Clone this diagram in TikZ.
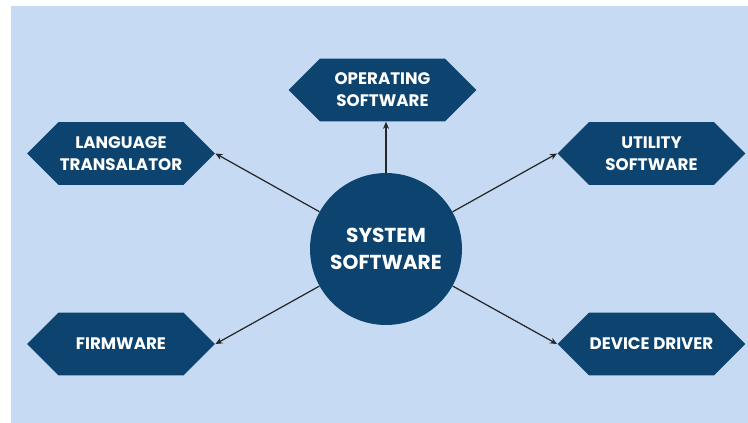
\documentclass[tikz,border=0pt]{standalone}
\usepackage{fontspec}
\setmainfont{Poppins}
\usetikzlibrary{shapes.symbols,arrows.meta}
\definecolor{fundo}{RGB}{198,219,243}
\definecolor{azulesc}{RGB}{12,67,111}
\begin{document}
\begin{tikzpicture}[x=0.02cm,y=-0.02cm,
    hexa/.style={signal, signal to=east and west, signal pointer angle=90,
        fill=azulesc, text=white, font=\bfseries\fontsize{9.5}{12.5}\selectfont,
        align=center, minimum width=3.76cm, minimum height=1.26cm, inner sep=0pt},
    centro/.style={circle, fill=azulesc, text=white, minimum size=3.04cm,
        font=\bfseries\fontsize{11.5}{15}\selectfont, align=center},
    seta/.style={-{Stealth[length=4pt,width=3.5pt]}, line width=0.7pt, draw=black!85}]
            % Fundo
            \useasboundingbox (0,0) rectangle (748,423);
            \fill[white] (0,0) rectangle (748,423);
            \fill[fundo] (11,6) rectangle (748,423);
            % No central
            \node[centro] (sys) at (386,249) {SYSTEM\\SOFTWARE};
            % Hexagonos
            \node[hexa] (oper) at (382.5,90) {OPERATING\\SOFTWARE};
            \node[hexa] (lang) at (121,153.5) {LANGUAGE\\TRANSALATOR};
            \node[hexa] (util) at (651.5,153.5) {UTILITY\\SOFTWARE};
            \node[hexa] (firm) at (121,344) {FIRMWARE};
            \node[hexa] (dev) at (651.5,344) {DEVICE DRIVER};
            % Setas
            \draw[seta] (sys.north) -- (sys.north |- oper.south);
            \draw[seta] (sys) -- (lang.east);
            \draw[seta] (sys) -- (util.west);
            \draw[seta] (sys) -- (firm.east);
            \draw[seta] (sys) -- (dev.west);
\end{tikzpicture}
\end{document}
